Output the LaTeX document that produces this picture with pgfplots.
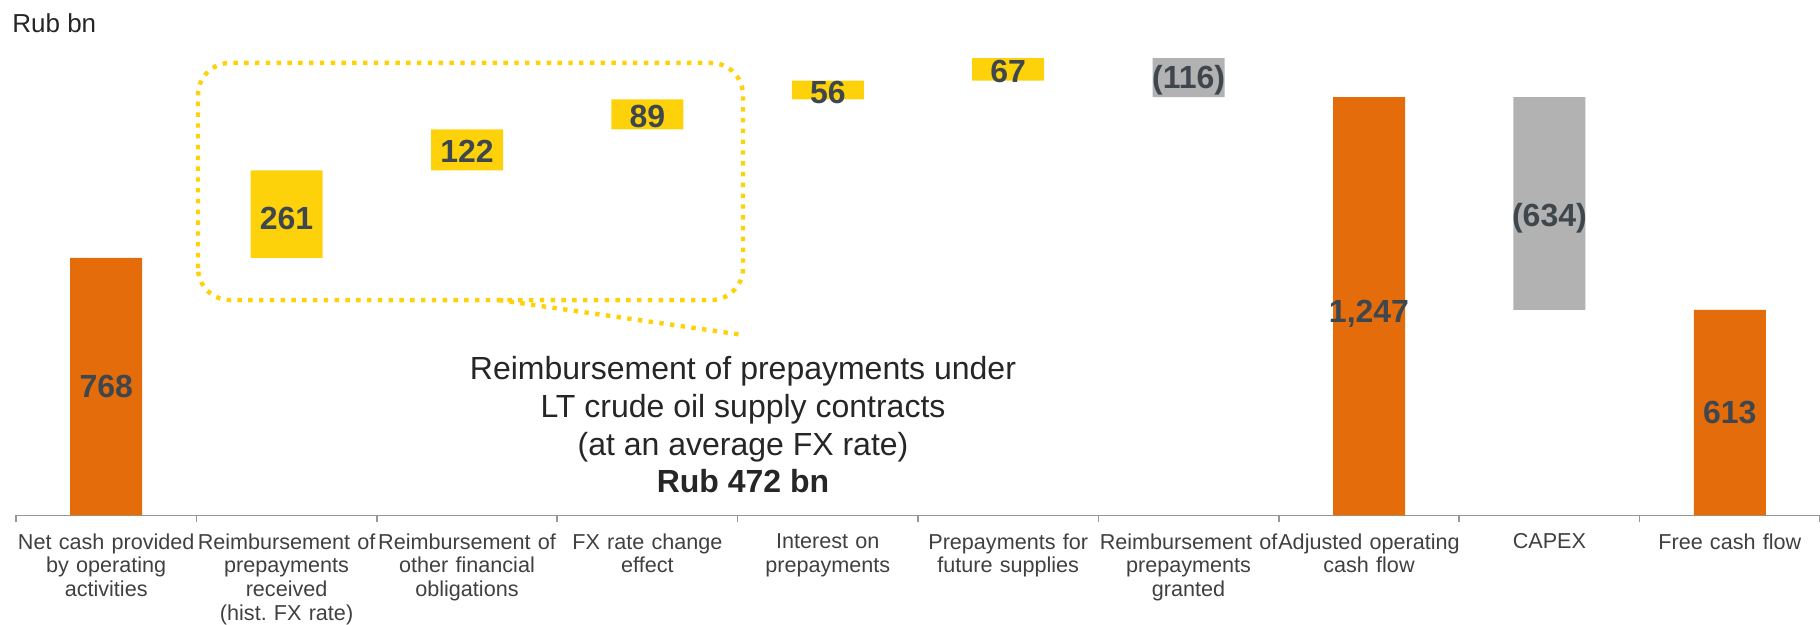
\documentclass[border=0pt]{standalone}
\usepackage{pgfplots}
\usepackage{pgfplotstable}
\pgfplotsset{compat=1.18}
\usepackage{fontspec}
\setmainfont{Liberation Sans}
\frenchspacing
\definecolor{barorange}{RGB}{228,108,10}
\definecolor{baryellow}{RGB}{253,210,10}
\definecolor{bargrey}{RGB}{178,178,178}
\definecolor{labtext}{RGB}{63,71,78}
\definecolor{ticktext}{RGB}{64,64,64}
\definecolor{annot}{RGB}{38,38,38}
\definecolor{axisgrey}{RGB}{150,150,150}

\pgfplotstableread{
x base orange yellow grey
0 0 768 0 0
1 768 0 261 0
2 1029 0 122 0
3 1151 0 89 0
4 1240 0 56 0
5 1296 0 67 0
6 1247 0 0 116
7 0 1247 0 0
8 613 0 0 634
9 0 613 0 0
}\bars

\pgfplotstableread{
x y lab
0 384 768
1 885 261
2 1086 122
3 1190 89
4 1260 56
5 1325 67
6 1298 (116)
7 600 {1,247}
8 885 (634)
9 306 613
}\labels

\begin{document}
\begin{tikzpicture}
\pgfplotsset{common/.style={at={(8pt,54.8pt)}, anchor=south west, scale only axis,
  width=902pt, height=234.78pt, xmin=-0.5, xmax=9.5, ymin=0, ymax=1400}}
\begin{axis}[common, ybar stacked, bar width=36pt,
  axis y line=none, axis x line*=bottom,
  axis line style={axisgrey, line width=0.8pt, -},
  xtick={0,...,9}, major tick length=0pt,
  minor xtick={-0.5,0.5,...,9.5}, minor tick length=3.5pt, tick align=outside,
  minor tick style={axisgrey, line width=0.8pt},
  xticklabels={{Net cash provided\\by operating\\activities},
    {Reimbursement of\\prepayments\\received\\(hist. FX rate)},
    {Reimbursement of\\other financial\\obligations},
    {FX rate change\\effect},
    {Interest on\\prepayments},
    {Prepayments for\\future supplies},
    {Reimbursement of\\prepayments\\granted},
    {Adjusted operating\\cash flow},
    {CAPEX},
    {Free cash flow}},
  xticklabel style={font=\fontsize{10.8}{11.8}\selectfont, text=ticktext,
    text width=95pt, align=center, anchor=north, yshift=-5.6pt},
  ]
\addplot[draw=none, fill=none] table[x=x,y=base]{\bars};
\addplot[draw=none, fill=barorange] table[x=x,y=orange]{\bars};
\addplot[draw=none, fill=baryellow] table[x=x,y=yellow]{\bars};
\addplot[draw=none, fill=bargrey] table[x=x,y=grey]{\bars};
\end{axis}
\begin{axis}[common, hide axis, clip=false]
\addplot[only marks, mark=none, point meta=explicit symbolic, nodes near coords,
  nodes near coords style={anchor=center, inner sep=0pt,
    font=\fontsize{16}{19}\selectfont\bfseries, text=labtext}]
  table[x=x,y=y,meta=lab]{\labels};
\draw[baryellow, line width=2.2pt, dash pattern=on 2.2pt off 3.2pt, rounded corners=16pt]
  (axis cs:0.509,642) rectangle (axis cs:3.53,1349);
\draw[baryellow, line width=2.2pt, dash pattern=on 2.2pt off 3.2pt]
  (axis cs:2.177,642) -- (axis cs:3.53,538);
\node[align=center, font=\fontsize{16}{18.9}\selectfont, text=annot]
  at (axis cs:3.53,270) {Reimbursement of prepayments under\\LT crude oil supply contracts\\(at an average FX rate)\\\textbf{Rub 472 bn}};
\end{axis}
\node[anchor=west, inner sep=0pt, font=\fontsize{13}{15}\selectfont, text=annot] at (6pt,301pt) {Rub bn};
\pgfresetboundingbox
\useasboundingbox (0,0) rectangle (910pt,312.5pt);
\end{tikzpicture}
\end{document}
